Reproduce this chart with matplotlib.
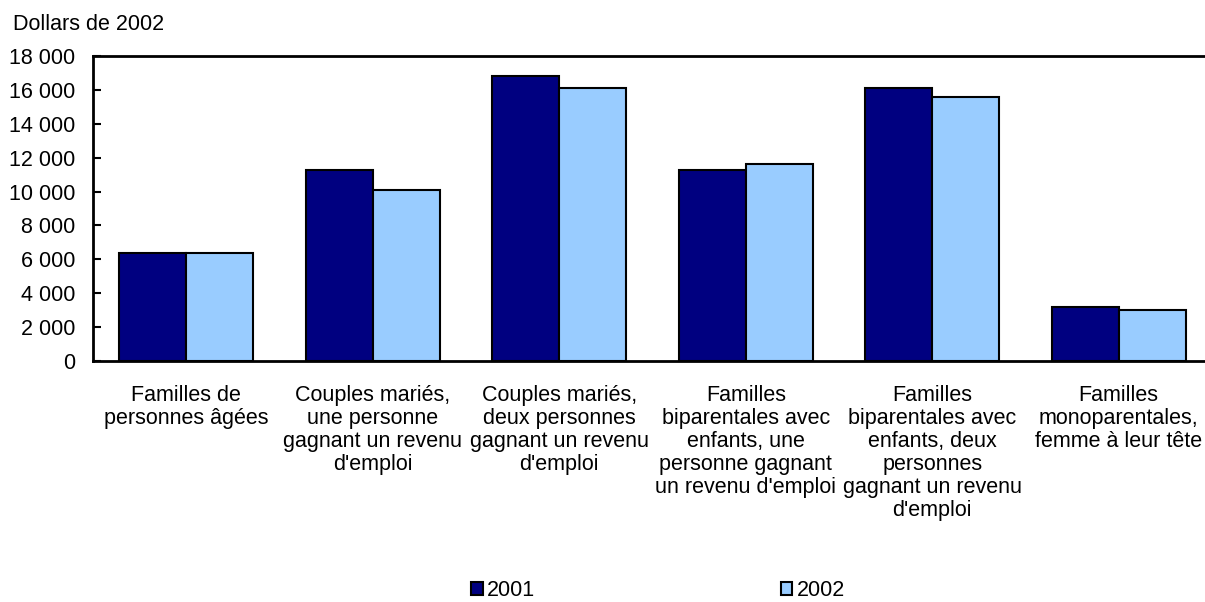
import matplotlib.pyplot as plt
import numpy as np
from matplotlib.ticker import FuncFormatter

# Data
categories = [
	"Familles de\npersonnes âgées",
	"Couples mariés,\nune personne\ngagnant un revenu\nd'emploi",
	"Couples mariés,\ndeux personnes\ngagnant un revenu\nd'emploi",
	"Familles\nbiparentales avec\nenfants, une\npersonne gagnant\nun revenu d'emploi",
	"Familles\nbiparentales avec\nenfants, deux\npersonnes\ngagnant un revenu\nd'emploi",
	"Familles\nmonoparentales,\nfemme à leur tête",
]
values_2001 = [6400, 11300, 16800, 11300, 16100, 3200]
values_2002 = [6400, 10100, 16100, 11600, 15600, 3000]
series_names = ["2001", "2002"]

plt.rcParams['font.family'] = ['Liberation Sans', 'DejaVu Sans']
fs = 15.5

fig = plt.figure(figsize=(12.05, 6.02), dpi=100)
# axes runs a bit past the right edge like the original
ax = fig.add_axes([93/1205, 1-361/602, (1212-93)/1205, (361-56)/602])

x = np.arange(len(categories))
width = 0.36
b1 = ax.bar(x - width/2, values_2001, width, color='#000080', edgecolor='black', linewidth=1.5, label=series_names[0])
b2 = ax.bar(x + width/2, values_2002, width, color='#99CCFF', edgecolor='black', linewidth=1.5, label=series_names[1])

ax.set_xlim(-0.5, len(categories) - 0.5)
ax.set_ylim(0, 18000)
ax.set_yticks(np.arange(0, 18001, 2000))
ax.yaxis.set_major_formatter(FuncFormatter(lambda v, p: f"{int(v):,}".replace(",", " ")))
ax.tick_params(axis='y', direction='in', length=6, width=1.5, labelsize=fs, pad=13)
ax.set_xticks(x)
ax.set_xticklabels(categories, fontsize=fs, linespacing=1.13)
ax.tick_params(axis='x', length=0, pad=17)
for s in ['left', 'top', 'bottom']:
	ax.spines[s].set_linewidth(2)
ax.spines['right'].set_visible(False)

fig.text(13/1205, 1-30/602, "Dollars de 2002", fontsize=fs, va='baseline')

fig.legend(loc='center', bbox_to_anchor=(658/1205, 1-591/602), ncol=2, frameon=False,
	fontsize=fs, handlelength=0.55, handleheight=0.55, handletextpad=0.2, columnspacing=11.4)

fig.savefig('out.png', dpi=100)
